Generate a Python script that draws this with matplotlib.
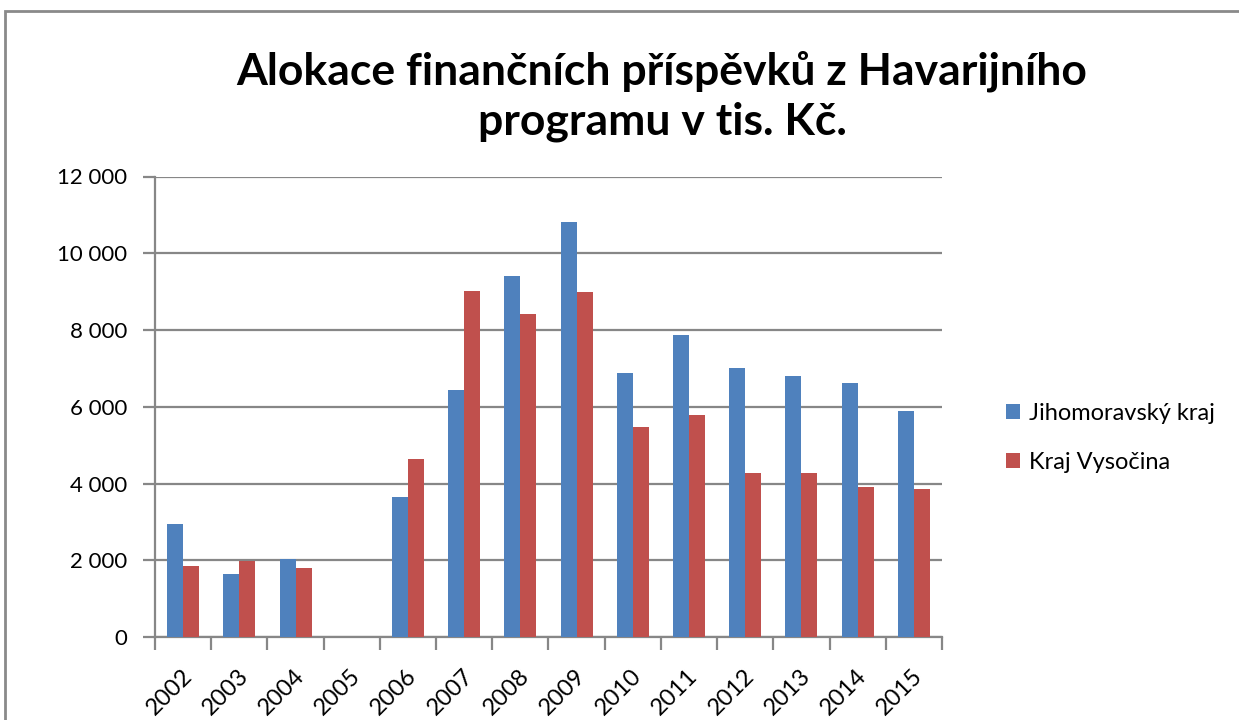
import matplotlib
matplotlib.use("Agg")
import matplotlib.pyplot as plt
import matplotlib.transforms as mtransforms
from matplotlib.patches import Rectangle
from matplotlib.ticker import FuncFormatter
import numpy as np

plt.rcParams["font.family"] = ["Lato", "DejaVu Sans"]

# Data (tis. Kč)
years = ["2002", "2003", "2004", "2005", "2006", "2007", "2008",
         "2009", "2010", "2011", "2012", "2013", "2014", "2015"]
jihomoravsky = [2940, 1640, 2030, 0, 3640, 6440, 9400,
                10820, 6880, 7880, 7010, 6800, 6620, 5890]
vysocina = [1850, 1980, 1800, 0, 4630, 9010, 8410,
            8980, 5480, 5790, 4270, 4270, 3900, 3850]

blue = "#4F81BD"
red = "#C0504D"
grid_gray = "#878787"

fig = plt.figure(figsize=(12.39, 7.2), dpi=100, facecolor="white")
ax = fig.add_axes([155 / 1239, 1 - 637 / 720, (942 - 155) / 1239, (637 - 176.5) / 720])

x = np.arange(len(years))
w = 0.285
ax.bar(x - w / 2, jihomoravsky, width=w, color=blue, label="Jihomoravský kraj", zorder=3)
ax.bar(x + w / 2, vysocina, width=w, color=red, label="Kraj Vysočina", zorder=3)

ax.set_xlim(-0.5, len(years) - 0.5)
ax.set_ylim(0, 12000)
ax.set_yticks(np.arange(0, 12001, 2000))
ax.yaxis.set_major_formatter(FuncFormatter(lambda v, p: f"{int(v):,}".replace(",", " ")))

# gridlines
ax.grid(axis="y", color=grid_gray, linewidth=1.6, zorder=0)
ax.set_axisbelow(True)

for s in ["top", "right"]:
    ax.spines[s].set_visible(False)
for s in ["left", "bottom"]:
    ax.spines[s].set_color(grid_gray)
    ax.spines[s].set_linewidth(1.6)

# category ticks at boundaries, labels at centres
ax.set_xticks(np.arange(-0.5, len(years), 1.0))
ax.set_xticklabels([])
ax.set_xticks(x, minor=True)
ax.set_xticklabels(years, minor=True, rotation=45, ha="right", va="top",
                   rotation_mode="anchor", fontsize=17)
ax.tick_params(axis="x", which="major", direction="out", length=9, width=1.6, color=grid_gray)
ax.tick_params(axis="x", which="minor", length=0, pad=20)
offset = mtransforms.ScaledTranslation(-2 / 100, 0, fig.dpi_scale_trans)
for lab in ax.get_xticklabels(minor=True):
    lab.set_transform(lab.get_transform() + offset)

ax.tick_params(axis="y", direction="out", length=9, width=1.6, color=grid_gray,
               labelsize=16, pad=11)

# title
fig.text(662 / 1239, 1 - 96 / 720,
         "Alokace finančních příspěvků z Havarijního\nprogramu v tis. Kč.",
         ha="center", va="center", fontsize=32, fontweight="bold",
         linespacing=1.3)

# legend
ax.legend(loc="center left", bbox_to_anchor=(985 / 1239, 1 - 438 / 720),
          bbox_transform=fig.transFigure, frameon=False, fontsize=17,
          handlelength=0.6, handleheight=0.6, handletextpad=0.35,
          labelspacing=1.2)

# outer chart border
fig.add_artist(Rectangle((5 / 1239, -0.1), 1.2, (720 - 11) / 720 + 0.1,
                         transform=fig.transFigure, fill=False,
                         edgecolor="#8a8a8a", linewidth=2))

fig.savefig("out.png", dpi=100, facecolor="white")
